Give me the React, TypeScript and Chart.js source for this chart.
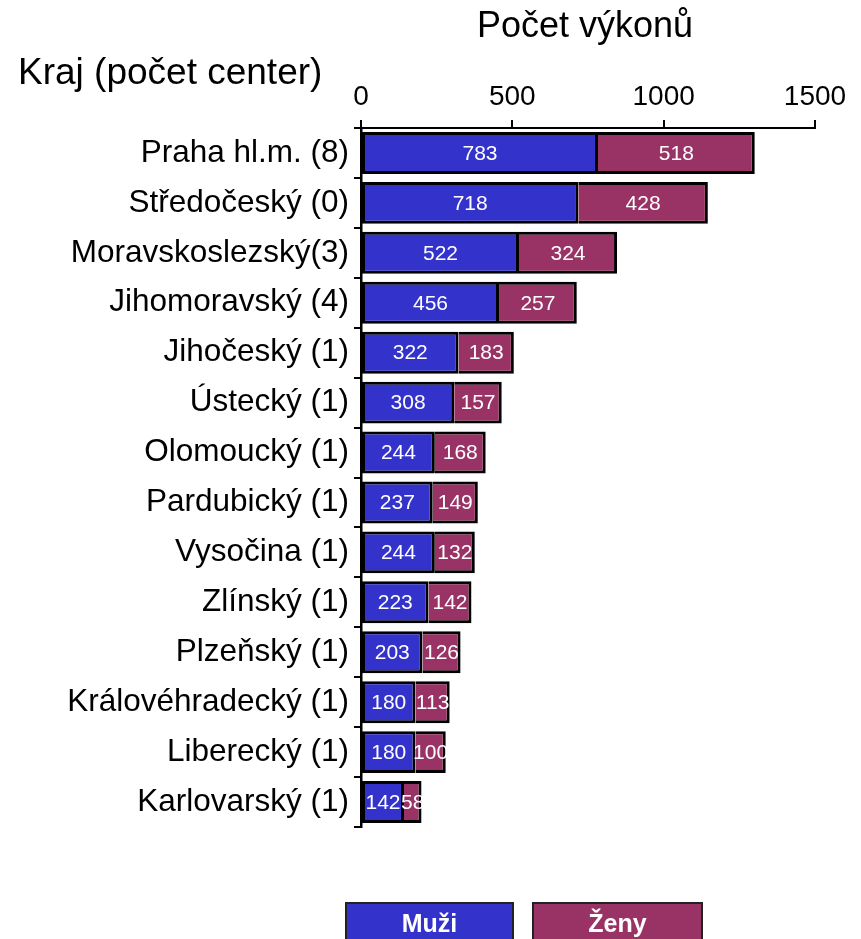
import React, { useEffect, useRef } from "react";
import { Chart, registerables } from "chart.js";

Chart.register(...registerables);

const categories = [
  "Praha hl.m. (8)",
  "Středočeský (0)",
  "Moravskoslezský(3)",
  "Jihomoravský (4)",
  "Jihočeský (1)",
  "Ústecký (1)",
  "Olomoucký (1)",
  "Pardubický (1)",
  "Vysočina (1)",
  "Zlínský (1)",
  "Plzeňský (1)",
  "Královéhradecký (1)",
  "Liberecký (1)",
  "Karlovarský (1)",
];
const muzi = [783, 718, 522, 456, 322, 308, 244, 237, 244, 223, 203, 180, 180, 142];
const zeny = [518, 428, 324, 257, 183, 157, 168, 149, 132, 142, 126, 113, 100, 58];
const xMin = 0;
const xMax = 1500;
const xStep = 500;
const seriesNames = ["Muži", "Ženy"];
const seriesColors = ["#3333CC", "#993366"];
const xTitle = "Počet výkonů";
const yTitle = "Kraj (počet center)";

const FONT = "'Liberation Sans', Arial, Helvetica, sans-serif";

export default function App() {
  const ref = useRef<HTMLCanvasElement | null>(null);

  useEffect(() => {
    if (!ref.current) return;

    const decor = {
      id: "decor",
      afterDatasetsDraw(chart: any) {
        const ctx = chart.ctx;
        ctx.save();
        ctx.fillStyle = "#ffffff";
        ctx.font = `21px ${FONT}`;
        ctx.textAlign = "center";
        ctx.textBaseline = "middle";
        chart.data.datasets.forEach((ds: any, di: number) => {
          const meta = chart.getDatasetMeta(di);
          meta.data.forEach((el: any, i: number) => {
            const cx = (el.x + el.base) / 2;
            ctx.fillText(String(ds.data[i]), cx, el.y + 1);
          });
        });
        ctx.restore();
      },
      afterDraw(chart: any) {
        const ctx = chart.ctx;
        ctx.save();
        ctx.fillStyle = "#000000";
        ctx.textAlign = "left";
        ctx.textBaseline = "alphabetic";
        ctx.font = `36px ${FONT}`;
        ctx.fillText(xTitle, 477, 37);
        ctx.font = `37px ${FONT}`;
        ctx.fillText(yTitle, 18, 84);

        // legend
        const boxes = [
          { x: 346, w: 167 },
          { x: 533, w: 169 },
        ];
        boxes.forEach((b, i) => {
          ctx.fillStyle = seriesColors[i];
          ctx.fillRect(b.x, 903, b.w, 40);
          ctx.strokeStyle = "#222222";
          ctx.lineWidth = 2;
          ctx.strokeRect(b.x, 903, b.w, 40);
          ctx.fillStyle = "#ffffff";
          ctx.font = `bold 25px ${FONT}`;
          ctx.textAlign = "center";
          ctx.fillText(seriesNames[i], b.x + b.w / 2, 932);
        });
        ctx.restore();
      },
    };

    const chart = new Chart(ref.current, {
      type: "bar",
      data: {
        labels: categories,
        datasets: [
          {
            label: seriesNames[0],
            data: muzi,
            backgroundColor: seriesColors[0],
            borderColor: "#000000",
            borderWidth: { top: 3, bottom: 3, left: 3, right: 3 },
            borderSkipped: false,
            barPercentage: 0.84,
            categoryPercentage: 1,
          },
          {
            label: seriesNames[1],
            data: zeny,
            backgroundColor: seriesColors[1],
            borderColor: "#000000",
            borderWidth: { top: 3, bottom: 3, left: 0, right: 3 },
            borderSkipped: false,
            barPercentage: 0.84,
            categoryPercentage: 1,
          },
        ],
      },
      options: {
        indexAxis: "y",
        animation: false,
        responsive: false,
        maintainAspectRatio: false,
        layout: { padding: { left: 0, top: 0, right: 46, bottom: 112 } },
        plugins: {
          legend: { display: false },
          tooltip: { enabled: false },
          title: { display: false },
        },
        scales: {
          x: {
            position: "top",
            stacked: true,
            min: xMin,
            max: xMax,
            ticks: {
              stepSize: xStep,
              color: "#000000",
              font: { family: FONT, size: 28 },
              padding: 6,
              maxRotation: 0,
              callback: (v: any) => String(v),
            },
            grid: {
              drawOnChartArea: false,
              drawTicks: true,
              tickLength: 8,
              color: "#000000",
              lineWidth: 2,
            },
            border: { display: true, color: "#000000", width: 2 },
            afterFit(scale: any) {
              scale.height = 128;
            },
          },
          y: {
            stacked: true,
            ticks: {
              color: "#000000",
              font: { family: FONT, size: 31.5 },
              padding: 5,
              autoSkip: false,
            },
            grid: {
              offset: true,
              drawOnChartArea: false,
              drawTicks: true,
              tickLength: 7,
              color: "#000000",
              lineWidth: 2,
            },
            border: { display: true, color: "#000000", width: 2.5 },
            afterFit(scale: any) {
              scale.width = 361;
            },
          },
        },
      },
      plugins: [decor],
    } as any);

    return () => chart.destroy();
  }, []);

  return (
    <div style={{ position: "absolute", left: 0, top: 0, width: 861, height: 939, background: "#ffffff" }}>
      <canvas ref={ref} width={861} height={939} style={{ width: 861, height: 939, display: "block" }} />
    </div>
  );
}
